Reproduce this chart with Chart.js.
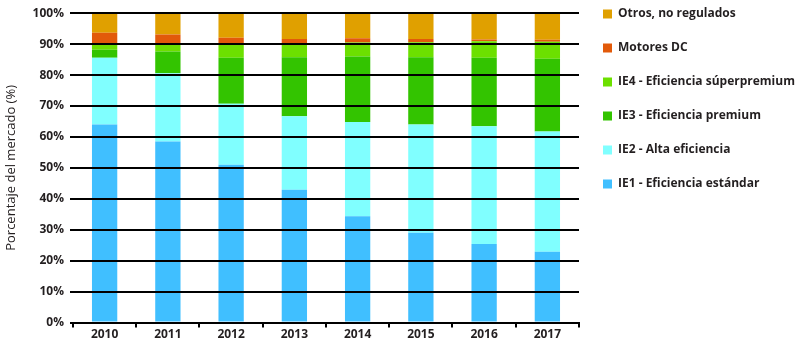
<!DOCTYPE html>
<html>
<head>
<meta charset="utf-8">
<script src="https://cdn.jsdelivr.net/npm/chart.js@4"></script>
<style>
  html, body { margin: 0; padding: 0; background: #fff; }
  #wrap { width: 800px; height: 343px; }
</style>
</head>
<body>
<div id="wrap"><canvas id="market-chart"></canvas></div>
<script>
// datos (% del mercado)
const YEARS = ['2010', '2011', '2012', '2013', '2014', '2015', '2016', '2017'];
const IE1   = [64.0, 58.5, 51.0, 42.9, 34.4, 29.0, 25.4, 22.9];
const IE2   = [21.6, 22.1, 19.7, 23.8, 30.4, 35.0, 38.1, 38.9];
const IE3   = [2.6, 7.0, 14.9, 19.1, 21.2, 21.8, 22.1, 23.5];
const IE4   = [1.7, 2.5, 4.7, 4.3, 4.5, 4.8, 5.3, 5.5];
const DC    = [3.8, 3.0, 1.8, 1.6, 1.4, 1.1, 0.6, 0.6];
const OTROS = [6.3, 6.9, 7.9, 8.3, 8.1, 8.3, 8.5, 8.6];
const Y_TICKS = [0, 10, 20, 30, 40, 50, 60, 70, 80, 90, 100];

const FONT = "'Open Sans', 'DejaVu Sans', sans-serif";
const TEXT = '#231f20';

// leyenda: subir un poco para alinear con la referencia
const legendShift = {
    id: 'legendShift',
    afterLayout(chart) {
        chart.legend.top -= 25;
        chart.legend.left += 2;
    }
};

function dataset(label, color, data) {
    return {
        label: label,
        backgroundColor: color,
        borderWidth: 0,
        barPercentage: 0.4,
        categoryPercentage: 1.0,
        data: data,
    };
}

const data = {
    labels: YEARS,
    datasets: [
        dataset('IE1 - Eficiencia estándar', '#40bfff', IE1),
        dataset('IE2 - Alta eficiencia', '#80ffff', IE2),
        dataset('IE3 - Eficiencia premium', '#33c400', IE3),
        dataset('IE4 - Eficiencia súperpremium', '#6ce000', IE4),
        dataset('Motores DC', '#e25a0a', DC),
        dataset('Otros, no regulados', '#e0a000', OTROS),
    ],
};

const config = {
    type: 'bar',
    data: data,
    plugins: [legendShift],
    options: {
        responsive: true,
        maintainAspectRatio: false,
        animation: false,
        layout: {
            padding: { top: 11, right: 0, bottom: 1, left: 0 }
        },
        plugins: {
            tooltip: { enabled: false },
            legend: {
                position: 'right',
                align: 'start',
                reverse: true,
                maxWidth: 221,
                labels: {
                    boxWidth: 9,
                    boxHeight: 9,
                    padding: 22,
                    color: TEXT,
                    font: { family: FONT, size: 12, weight: 'bold' },
                }
            }
        },
        scales: {
            x: {
                stacked: true,
                grid: {
                    z: 1,
                    drawOnChartArea: false,
                    drawTicks: true,
                    tickLength: 5,
                    color: '#000',
                    lineWidth: 2,
                },
                border: { display: true, color: '#000', width: 2, z: 1 },
                ticks: {
                    color: TEXT,
                    padding: 0,
                    font: { family: FONT, size: 12, weight: 'bold' },
                }
            },
            y: {
                stacked: true,
                min: 0,
                max: 100,
                afterBuildTicks: function(scale) {
                    scale.ticks = Y_TICKS.map(v => ({ value: v }));
                },
                grid: {
                    z: 1,
                    color: '#000',
                    lineWidth: 2,
                    drawTicks: true,
                    tickLength: 3,
                },
                border: { display: false },
                title: {
                    display: true,
                    text: 'Porcentaje del mercado (%)',
                    color: TEXT,
                    padding: { top: 3, bottom: 8 },
                    font: { family: FONT, size: 13, weight: '400' },
                },
                ticks: {
                    color: TEXT,
                    padding: 6,
                    font: { family: FONT, size: 12, weight: 'bold' },
                    callback: function(v) { return v + '%'; },
                }
            }
        }
    }
};

// 描画
const myChart = new Chart(document.getElementById('market-chart'), config);
</script>
</body>
</html>
